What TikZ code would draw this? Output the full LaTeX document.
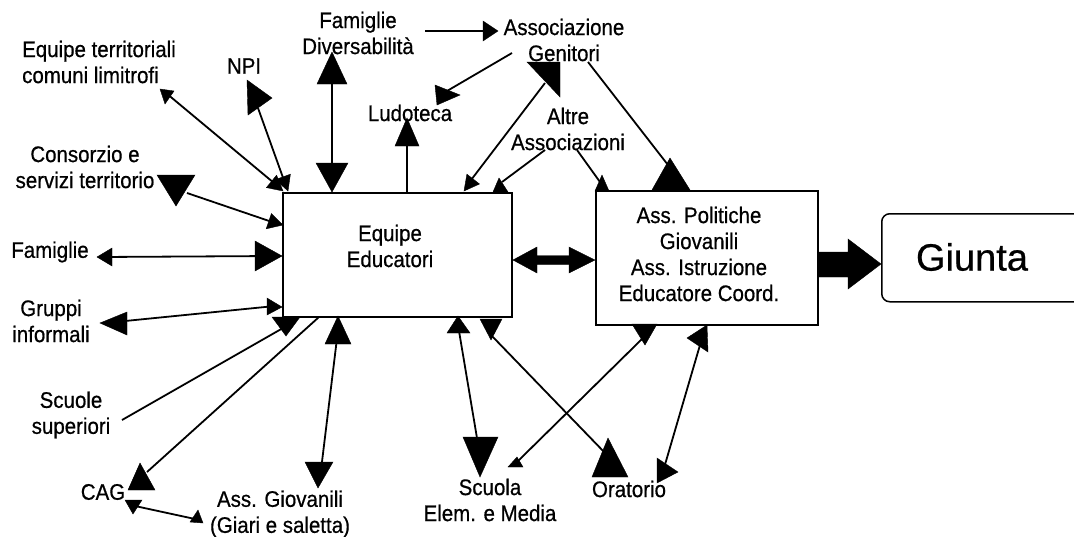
\documentclass[tikz,border=0pt]{standalone}
\usepackage{fontspec}
\setmainfont{Liberation Sans}
\newfontfamily\lblfont[FakeStretch=0.91,FakeBold=0.6]{Liberation Sans}
\newfontfamily\titlefont[FakeBold=0.6]{Liberation Sans}
\begin{document}
\begin{tikzpicture}[x=1pt,y=-1pt,
  lbl/.style={font=\lblfont\fontsize{22.5}{26}\selectfont, align=center, inner sep=0pt},
  link/.style={line width=1.8pt, black},
  head/.style={fill=black, draw=black, line width=0.4pt, line join=miter},
  boxshape/.style={draw, line width=2pt, inner sep=0pt, anchor=north west}]
\useasboundingbox (0,0) rectangle (1074,536);
\clip (0,0) rectangle (1074,536);

% ---------- main boxes ----------
\node[boxshape, minimum width=229pt, minimum height=124pt] (eq) at (282,192) {};
\node[lbl] (eqtext) at (390,246) {Equipe\\Educatori};
\node[boxshape, minimum width=222pt, minimum height=134pt] (ass) at (595,190) {};
\node[lbl] (asstext) at (699,254) {Ass. Politiche\\Giovanili\\Ass. Istruzione\\Educatore Coord.};
\node[boxshape, line width=1.5pt, rounded corners=8pt, minimum width=210pt, minimum height=88pt] (giunta) at (881,213) {};
\node[inner sep=0pt, font=\titlefont\fontsize{38}{44}\selectfont] (giuntatext) at (972,257) {Giunta};

% ---------- surrounding labels ----------
\node[lbl, align=left, anchor=west] (terr) at (22,62) {Equipe territoriali\\comuni limitrofi};
\node[lbl] (npi) at (244,66) {NPI};
\node[lbl] (div) at (358,33) {Famiglie\\Diversabilità};
\node[lbl] (gen) at (564,40) {Associazione\\Genitori};
\node[lbl] (lud) at (410,113) {Ludoteca};
\node[lbl] (altre) at (568,129) {Altre\\Associazioni};
\node[lbl] (cons) at (85,167) {Consorzio e\\servizi territorio};
\node[lbl] (fam) at (50,252) {Famiglie};
\node[lbl] (grup) at (51,321) {Gruppi\\informali};
\node[lbl] (scuole) at (71,415) {Scuole\\superiori};
\node[lbl] (cag) at (103,492) {CAG};
\node[lbl] (assgiov) at (280,514) {Ass. Giovanili\\(Giari e saletta)};
\node[lbl] (scuola) at (490,500) {Scuola\\Elem. e Media};
\node[lbl] (orat) at (629,489) {Oratorio};

% ---------- connector end points ----------
\coordinate (terrEnd) at (166,93);   \coordinate (eqNW) at (280,188);
\coordinate (npiEnd) at (258,108);   \coordinate (eqNWb) at (286,186);
\coordinate (divEnd) at (332,60);    \coordinate (eqTopA) at (332,185);
\coordinate (divEast) at (425,31);   \coordinate (genWest) at (490,31);
\coordinate (genSW) at (512,53);     \coordinate (ludEast) at (447,91);
\coordinate (eqTopB) at (407,192);   \coordinate (ludBase) at (407,125);
\coordinate (genS) at (545,83);      \coordinate (eqTopC) at (468,184);
\coordinate (altreW) at (545,150);   \coordinate (eqTopD) at (502,182);
\coordinate (altreE) at (577,150);   \coordinate (assNW) at (600,182);
\coordinate (genSE) at (588,62);     \coordinate (assTop) at (668,165);
\coordinate (consEnd) at (187,193);  \coordinate (eqWestA) at (278,224);
\coordinate (famEnd) at (100,257);   \coordinate (eqWestB) at (275,256);
\coordinate (grupEnd) at (105,323);  \coordinate (eqWestC) at (275,306);
\coordinate (scuoleEnd) at (122,420);\coordinate (eqSW) at (283,328);
\coordinate (cagTop) at (147,472);   \coordinate (eqBotA) at (319,317);
\coordinate (cagBot) at (135,506);   \coordinate (assgiovW) at (195,519);
\coordinate (eqBotB) at (338,330);   \coordinate (assgiovTop) at (321,470);
\coordinate (eqBotC) at (458,325);   \coordinate (scuolaTop) at (479,450);
\coordinate (eqBotD) at (491,335);   \coordinate (oratTop) at (607,455);
\coordinate (assBotA) at (643,338);  \coordinate (scuolaNE) at (517,462);
\coordinate (assBotB) at (700,345);  \coordinate (oratNE) at (664,468);

% ---------- connectors ----------
\draw[link] (terrEnd) -- (eqNW);
\draw[link] (npiEnd) -- (eqNWb);
\draw[link] (divEnd) -- (eqTopA);
\draw[link] (divEast) -- (genWest);
\draw[link] (genSW) -- (ludEast);
\draw[link] (eqTopB) -- (ludBase);
\draw[link] (genS) -- (eqTopC);
\draw[link] (altreW) -- (eqTopD);
\draw[link] (altreE) -- (assNW);
\draw[link] (genSE) -- (assTop);
\draw[link] (consEnd) -- (eqWestA);
\draw[link] (famEnd) -- (eqWestB);
\draw[link] (grupEnd) -- (eqWestC);
\draw[link] (scuoleEnd) -- (eqSW);
\draw[link] (cagTop) -- (eqBotA);
\draw[link] (cagBot) -- (assgiovW);
\draw[link] (eqBotB) -- (assgiovTop);
\draw[link] (eqBotC) -- (scuolaTop);
\draw[link] (eqBotD) -- (oratTop);
\draw[link] (assBotA) -- (scuolaNE);
\draw[link] (assBotB) -- (oratNE);

% ---------- arrow heads ----------
% Equipe territoriali
\fill[head] (160,89) -- (174,91) -- (165,104) -- cycle;
\fill[head] (283,191) -- (276.6,175.2) -- (266.4,187.6) -- cycle;
% NPI
\fill[head] (247,80) -- (272,98) -- (248,115) -- cycle;
\fill[head] (288,191) -- (290.4,174.2) -- (275.4,179.6) -- cycle;
% Famiglie Diversabilita
\fill[head] (332,52) -- (317,84) -- (347,84) -- cycle;
\fill[head] (332,192) -- (316,163) -- (348,163) -- cycle;
\fill[head] (483,21) -- (498,31) -- (483,41) -- cycle;
% Associazione Genitori -> Ludoteca
\fill[head] (435,85) -- (460,95) -- (437,105) -- cycle;
% Ludoteca
\fill[head] (395,146) -- (419,146) -- (407,118) -- cycle;
% Associazione Genitori <-> Equipe
\fill[head] (527,62) -- (560,62) -- (560,97) -- cycle;
\fill[head] (464,191) -- (479.5,184) -- (466.9,174.2) -- cycle;
% Altre Associazioni
\fill[head] (499,178) -- (493,192) -- (508,192) -- cycle;
\fill[head] (602,175) -- (595,191) -- (609,191) -- cycle;
% Associazione Genitori -> Ass. Politiche
\fill[head] (652,190) -- (690,190) -- (670,158) -- cycle;
% Consorzio
\fill[head] (157,175) -- (195,175) -- (176,206) -- cycle;
\fill[head] (283,225) -- (271.4,213.6) -- (266.2,228.8) -- cycle;
% Famiglie
\fill[head] (97,257) -- (112,248) -- (112,266) -- cycle;
\fill[head] (255,241) -- (255,271) -- (282,256) -- cycle;
% Gruppi informali
\fill[head] (100,323) -- (127,312) -- (127,335) -- cycle;
\fill[head] (267,298) -- (267,315) -- (282,307) -- cycle;
% Scuole superiori
\fill[head] (272,317) -- (300,317) -- (286,336) -- cycle;
% CAG
\fill[head] (128,490) -- (155,490) -- (140,463) -- cycle;
\fill[head] (125,500) -- (142,500) -- (133,514) -- cycle;
\fill[head] (190,522) -- (198,510) -- (203,523) -- cycle;
% Ass. Giovanili
\fill[head] (325,344) -- (351,344) -- (338,316) -- cycle;
\fill[head] (305,462) -- (333,462) -- (318,488) -- cycle;
% Scuola Elem. e Media
\fill[head] (447,333) -- (470,333) -- (458,316) -- cycle;
\fill[head] (463,437) -- (498,437) -- (480,477) -- cycle;
% Oratorio
\fill[head] (480,319) -- (502,319) -- (491,340) -- cycle;
\fill[head] (592,477) -- (628,477) -- (608,438) -- cycle;
% Ass. Politiche <-> Scuola
\fill[head] (632,324) -- (657,324) -- (645,345) -- cycle;
\fill[head] (508,467) -- (523,467) -- (517,457) -- cycle;
% Ass. Politiche <-> Oratorio
\fill[head] (687,338) -- (707,325) -- (708,352) -- cycle;
\fill[head] (657,458) -- (678,472) -- (657,483) -- cycle;

% ---------- thick arrows ----------
% Equipe <-> Ass. Politiche
\fill[head] (eq.east |- 0,260) -- (537,247) -- (537,255.5) -- (569,255.5) -- (569,247)
  -- (ass.west |- 0,260) -- (569,273) -- (569,264.5) -- (537,264.5) -- (537,273) -- cycle;
% Ass. Politiche -> Giunta
\fill[head] (ass.east |- 0,252) -- (848,252) -- (848,239) -- (giunta.west |- 0,264)
  -- (848,289) -- (848,277) -- (ass.east |- 0,277) -- cycle;
\end{tikzpicture}
\end{document}
